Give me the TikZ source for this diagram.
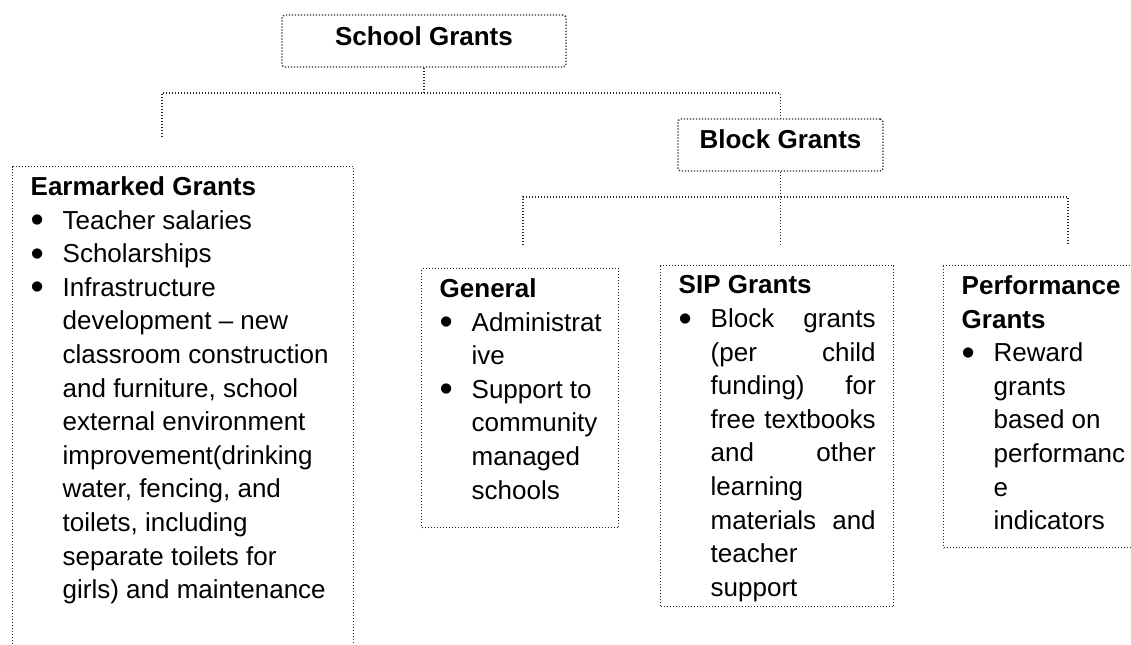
\documentclass[tikz,border=0pt]{standalone}
\usepackage{fontspec}
\setmainfont{Liberation Sans}
\usetikzlibrary{calc,positioning}
\newcommand{\pxu}{0.5pt}
\colorlet{linegray}{black!85}
\newcommand{\bul}{\makebox[16pt][l]{\smash{\raisebox{-1.8pt}{\scalebox{1.45}{\textbullet}}}}}
\newcommand{\ind}{\hspace*{16pt}}
\newcommand{\jst}[1]{\makebox[\dimexpr\linewidth-16pt\relax][s]{#1}}
\newcommand{\gbody}[3]{\parbox[t][#1][t]{#2}{\raggedright\hyphenpenalty=10000 #3}}
\tikzset{
    linksty/.style={draw=linegray, line width=0.7pt, dash pattern=on 0.6pt off 0.9pt},
    boxsty/.style={linksty, rectangle, anchor=north west, inner xsep=9pt, inner ysep=5pt,
      font=\fontsize{13pt}{16.8pt}\selectfont},
    headsty/.style={linksty, rectangle, rounded corners=1.5pt, inner sep=0pt, anchor=base,
      font=\fontsize{13pt}{16.8pt}\selectfont\bfseries},
}

\begin{document}
\begin{tikzpicture}[x=\pxu, y=-\pxu]
\useasboundingbox (0,0) rectangle (1131,644);
\clip (0,0) rectangle (1131,644);
% heads
\node[headsty, minimum width=142pt, text height=15pt, text depth=11pt] (school) at (424,45) {School Grants};
\node[headsty, minimum width=102.5pt, text height=14.5pt, text depth=11.5pt] (block) at (780.5,148) {Block Grants};
% grant boxes
\node[boxsty] (earmarked) at (12,166) {\gbody{242pt}{152.5pt}{%
\textbf{Earmarked Grants}\\
\bul Teacher salaries\\
\bul Scholarships\\
\bul Infrastructure\\
\ind development – new\\
\ind classroom construction\\
\ind and furniture, school\\
\ind external environment\\
\ind improvement(drinking\\
\ind water, fencing, and\\
\ind toilets, including\\
\ind separate toilets for\\
\ind girls) and maintenance}};
\node[boxsty] (general) at (421,268) {\gbody{119.5pt}{80.5pt}{%
\textbf{General}\\
\bul Administrat\\
\ind ive\\
\bul Support to\\
\ind community\\
\ind managed\\
\ind schools}};
\node[boxsty] (sip) at (660,265) {\gbody{160.5pt}{98.5pt}{%
\textbf{SIP Grants}\\
\bul\jst{Block grants}\\
\ind\jst{(per child}\\
\ind\jst{funding) for}\\
\ind\jst{free textbooks}\\
\ind\jst{and other}\\
\ind learning\\
\ind\jst{materials and}\\
\ind teacher\\
\ind support}};
\node[boxsty] (perf) at (943,265) {\gbody{131pt}{100.5pt}{%
\textbf{Performance}\\
\textbf{Grants}\\
\bul Reward\\
\ind grants\\
\ind based on\\
\ind performanc\\
\ind e\\
\ind indicators}};
% connectors
\coordinate (split1) at (424,93);
\coordinate (earmEnd) at (162,137);
\coordinate (split2) at (780.5,197);
\coordinate (genEnd) at (523,245);
\coordinate (sipEnd) at (780.5,245);
\coordinate (perfEnd) at (1068,245);
\draw[linksty] (school.south) -- (split1) -| (earmEnd);
\draw[linksty] (split1) -| (block.north);
\draw[linksty] (block.south) -- (sipEnd);
\draw[linksty] (genEnd) |- (split2) -| (perfEnd);
\end{tikzpicture}
\end{document}
